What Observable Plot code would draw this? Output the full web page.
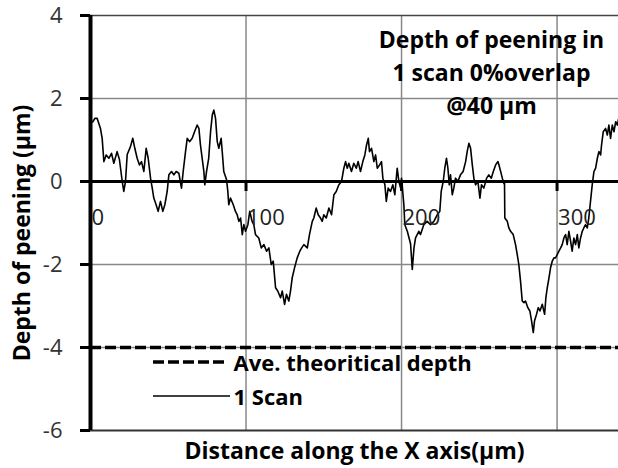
<!DOCTYPE html>
<html>
<head>
<meta charset="utf-8">
<script src="https://cdn.jsdelivr.net/npm/d3@7"></script>
<script src="https://cdn.jsdelivr.net/npm/@observablehq/plot@0.6"></script>
<style>
  html, body { margin: 0; padding: 0; background: #fff; }
  #chart { width: 618px; height: 468px; }
</style>
</head>
<body>
<div id="chart"></div>
<script>
// ---- data ----
const distance = [
  0, 1.5, 2.8, 4.3, 6.4, 7.5, 8.6, 10.1, 11.8, 13.5, 15, 17.1, 18.6, 20.4, 21.4, 22.5, 23.6, 25.7, 27.2, 28.5,
  30, 31.5, 32.8, 34.3, 35.8, 37.1, 38.6, 39.7, 40.7, 42.2, 43.5, 45, 46.5, 47.8, 49.3, 50.4, 52.1, 53.6, 55.1, 56.8,
  58.5, 59.6, 61.1, 62.2, 63.7, 65.4, 66.9, 68.6, 69.7, 70.7, 71.8, 72.9, 73.5, 74.6, 76, 77.2, 78.3, 79.3, 80.4, 81.5,
  82.5, 84, 84.7, 85.7, 87.5, 88.3, 88.9, 90, 91.8, 93.2, 94.3, 95.4, 96.5, 97.6, 98.6, 99.7, 101.2, 102.4, 103.9, 105,
  106.1, 108.2, 109.8, 111.5, 113.2, 114.7, 116.2, 117.5, 119, 120.4, 122.2, 123.3, 124.8, 126, 127.5, 128.6, 129.7, 131.2, 132.9, 134.6,
  135.8, 137.2, 139.4, 140.8, 142.6, 143.6, 145.1, 146.4, 147.9, 149, 150, 151.6, 153.3, 155, 156.5, 158, 159.7, 161.4, 162.9, 164,
  165.1, 166.1, 167.8, 169.3, 170.9, 172.1, 173.6, 175.1, 176.4, 177.5, 178.6, 179.4, 180.7, 182.2, 183.3, 184.4, 185.9, 187.1, 188, 189.3,
  190.2, 191.4, 192.9, 194.4, 195.7, 197.2, 198.3, 199.4, 200, 201.5, 202.1, 203.7, 205.8, 206.9, 208, 209, 211.1, 212.2, 214.3, 216.5,
  218.6, 220.8, 223, 224.6, 225.5, 226.8, 227.8, 228.9, 229.8, 230.7, 231.5, 232.6, 233.6, 234.7, 236.2, 237.9, 239.6, 241.2, 242.2, 243.3,
  244.4, 245.5, 246.5, 247.6, 249.1, 250.4, 251.4, 252.9, 254.7, 256.1, 257.7, 259, 260.5, 262, 263.2, 264.8, 265.8, 266.2, 266.4, 268,
  269, 270.1, 271.8, 273.3, 274.4, 275.4, 276.5, 277.6, 278.7, 279.7, 281.2, 282.5, 283.6, 284.7, 285.5, 286.8, 287.9, 289, 290.5, 292,
  292.8, 293.7, 294.8, 295.8, 296.9, 298, 299, 300.1, 301.2, 302.3, 303.3, 304.4, 305.5, 306.5, 307.6, 308.7, 309.7, 310.8, 311.9, 313,
  314, 315.1, 316.2, 317.2, 318.3, 319.4, 320.4, 321.5, 322.6, 323.7, 324.8, 325.9, 326.9, 328, 328.6, 329.7, 331.2, 332.3, 333.3, 334.4,
  335.5, 336.6, 337.7, 338.8, 339.5
];
const depth = [
  1.42, 1.44, 1.52, 1.52, 1.28, 1.04, 0.48, 0.64, 0.56, 0.68, 0.44, 0.72, 0.53, 0, -0.24, 0, 0.65, 0.84, 1.04, 0.8,
  0.56, 0.4, 0.48, 0.24, 0.8, 0.56, 0.08, -0.16, -0.4, -0.56, -0.72, -0.48, -0.72, -0.56, -0.24, 0.16, 0.24, 0.16, 0.24, 0.2,
  -0.16, 0.24, 0.72, 1.04, 0.96, 1.04, 1.2, 1.36, 1.28, 0.88, 0.56, 0.24, -0.08, 0.24, 0.56, 1.2, 1.6, 1.72, 1.52, 0.96,
  0.8, 1.04, 0.72, 0.24, 0.04, -0.24, -0.56, -0.4, -0.56, -0.72, -0.8, -0.96, -0.88, -1.28, -1.04, -1.2, -1.04, -0.72, -0.96, -1.04,
  -1.28, -1.36, -1.6, -1.52, -1.68, -1.6, -2.0, -1.92, -2.56, -2.64, -2.8, -2.64, -2.96, -2.72, -2.88, -2.64, -2.32, -2.08, -1.84, -1.68,
  -1.6, -1.52, -1.6, -1.28, -0.96, -0.88, -0.64, -0.8, -0.88, -0.96, -0.8, -0.88, -0.64, -0.8, -0.32, -0.24, -0.08, 0, 0.32, 0.48,
  0.32, 0.44, 0.24, 0.44, 0.32, 0.48, 0.24, 0.48, 0.64, 0.88, 1.04, 0.72, 0.8, 0.48, 0.64, 0.32, 0.4, 0.48, 0.08, -0.08,
  -0.48, -0.16, -0.24, -0.08, -0.32, 0.32, 0, -0.16, 0.08, -0.56, -1.04, -1.2, -1.5, -2.12, -1.6, -1.36, -1.2, -1.28, -1.04, -0.96,
  -1.04, -0.96, -0.8, -0.72, -0.24, 0, 0.32, 0.56, 0.32, -0.08, 0.16, -0.32, -0.16, 0.08, 0, 0.16, 0.24, 0.48, 0.72, 0.92,
  0.8, 0.4, 0.08, -0.08, 0, -0.4, -0.08, -0.16, 0.08, 0.16, 0.08, 0.24, 0.4, 0.48, 0.32, 0.08, -0.05, 0, -0.88, -0.96,
  -1.12, -1.2, -1.28, -1.52, -1.76, -2.0, -2.4, -2.88, -2.92, -2.88, -3.04, -3.12, -3.36, -3.64, -3.36, -3.2, -3.04, -3.12, -2.96, -3.2,
  -2.8, -2.56, -2.32, -2.08, -1.92, -1.84, -1.84, -1.76, -1.68, -1.6, -1.52, -1.36, -1.28, -1.52, -1.2, -1.44, -1.68, -1.36, -1.52, -1.28,
  -1.6, -1.36, -1.2, -1.12, -1.04, -1.12, -0.88, -0.48, -0.08, 0.24, 0.32, 0.56, 0.72, 0.64, 0.88, 1.2, 1.28, 1.12, 1.36, 1.04,
  1.36, 1.2, 1.44, 1.36, 1.5
];
const xTicks = [0, 100, 200, 300];
const yTicks = [-6, -4, -2, 0, 2, 4];
const xDomain = [0, 339.5];
const aveTheoreticalDepth = -4;
const titleLines = ["Depth of peening in", "1 scan 0%overlap", "@40 µm"];
const xLabel = "Distance along the X axis(µm)";
const yLabel = "Depth of peening (µm)";
const legendLabels = ["Ave. theoritical depth", "1 Scan"];

const profile = distance.map((d, i) => ({x: d, y: depth[i]}));

const FONT = "'Open Sans', sans-serif";

const svg = Plot.plot({
  width: 618,
  height: 468,
  marginLeft: 90,
  marginRight: 0,
  marginTop: 15,
  marginBottom: 38,
  style: {fontFamily: FONT, fontSize: "21px", background: "#fff", color: "#000"},
  x: {domain: xDomain, axis: null},
  y: {domain: [d3.min(yTicks), d3.max(yTicks)], axis: null},
  marks: [
    // gridlines
    Plot.ruleX(xTicks.filter(d => d > 0), {stroke: "#888", strokeWidth: 1.5}),
    Plot.ruleY(yTicks.filter(d => d !== 0 && d !== d3.min(yTicks) && d !== d3.max(yTicks)), {stroke: "#888", strokeWidth: 1.5}),
    Plot.ruleY([d3.max(yTicks)], {stroke: "#444", strokeWidth: 1.5}),
    Plot.ruleY([d3.min(yTicks)], {stroke: "#333", strokeWidth: 2.2}),
    // average theoretical depth
    Plot.ruleY([aveTheoreticalDepth], {stroke: "#000", strokeWidth: 3.5, strokeDasharray: "11,4"}),
    // profile
    Plot.line(profile, {x: "x", y: "y", stroke: "#000", strokeWidth: 1.6}),
    // zero axis and its ticks
    Plot.ruleY([0], {stroke: "#000", strokeWidth: 3}),
    Plot.ruleX(xTicks.filter(d => d > 0), {x: d => d, y1: 0, y2: 0, insetBottom: -10, stroke: "#000", strokeWidth: 3}),
    Plot.text(xTicks, {x: d => d, y: 0, text: d => String(d), dy: 36, dx: 1, textAnchor: "start", fill: "#222", fontSize: 22}),
    // y axis
    Plot.ruleX([0], {stroke: "#000", strokeWidth: 4}),
    Plot.axisY(yTicks, {tickSize: 10, tickPadding: 18, strokeWidth: 3, stroke: "#000", fill: "#333", fontSize: 22, label: null, tickFormat: d => String(d)}),
    // axis titles
    Plot.text([yLabel], {frameAnchor: "left", rotate: -90, dx: -68, dy: 10, textAnchor: "middle", fontWeight: "bold", fontSize: 23, fill: "#000"}),
    Plot.text([xLabel], {frameAnchor: "bottom", dy: 21, lineAnchor: "middle", fontWeight: "bold", fontSize: 23, fill: "#000"}),
    // annotation
    Plot.text([titleLines.join("\n")], {frameAnchor: "top-right", dx: -127, dy: 55, textAnchor: "middle", lineAnchor: "middle", lineHeight: 1.43, fontWeight: "bold", fontSize: 23, fill: "#000"}),
    // legend labels
    Plot.text([legendLabels[0]], {frameAnchor: "bottom-left", dx: 143, dy: -67, textAnchor: "start", lineAnchor: "middle", fontWeight: "bold", fontSize: 22, fill: "#000"}),
    Plot.text([legendLabels[1]], {frameAnchor: "bottom-left", dx: 143, dy: -33, textAnchor: "start", lineAnchor: "middle", fontWeight: "bold", fontSize: 22, fill: "#000"})
  ]
});

// legend samples
const g = d3.select(svg).append("g");
g.append("line").attr("x1", 153).attr("x2", 228).attr("y1", 362).attr("y2", 362)
  .attr("stroke", "#000").attr("stroke-width", 3.5).attr("stroke-dasharray", "11,4");
g.append("line").attr("x1", 153).attr("x2", 230).attr("y1", 396).attr("y2", 396)
  .attr("stroke", "#000").attr("stroke-width", 1.6);

document.getElementById("chart").appendChild(svg);
</script>
</body>
</html>
